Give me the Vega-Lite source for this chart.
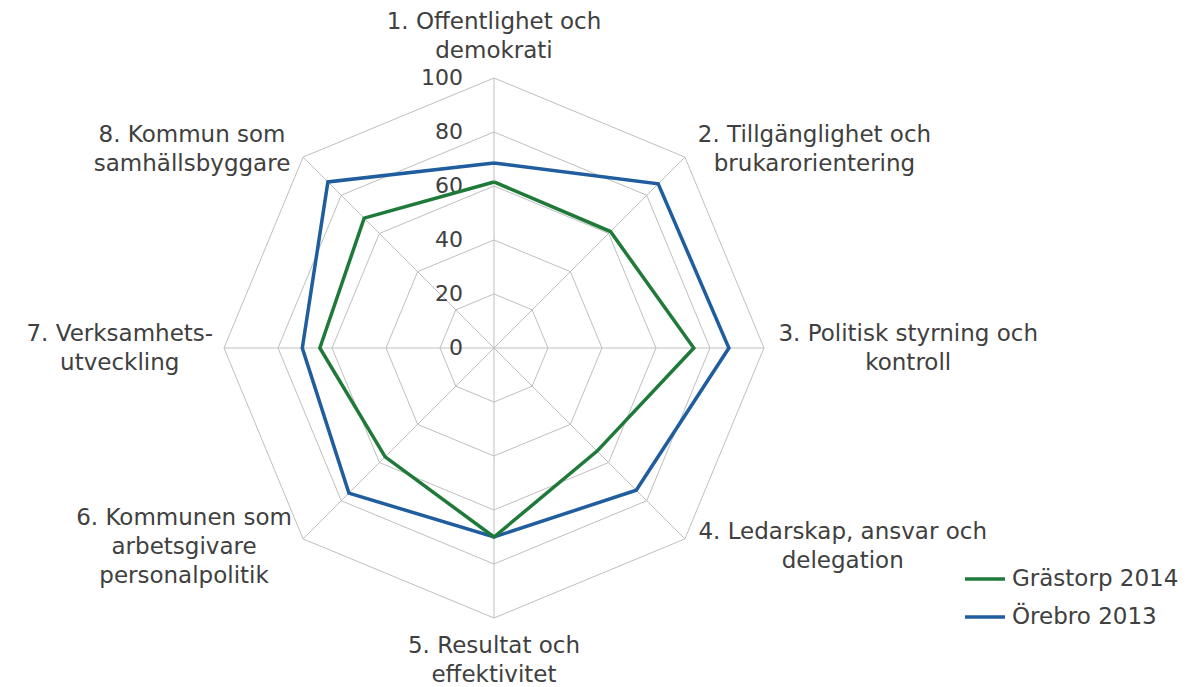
{
  "$schema": "https://vega.github.io/schema/vega-lite/v6.json",
  "width": 540,
  "height": 540,
  "autosize": {"type": "none"},
  "padding": {"left": 224, "top": 78, "right": 427, "bottom": 69},
  "background": "white",
  "config": {"view": {"stroke": null}, "font": "DejaVu Sans"},
  "datasets": {
    "scores": [
      {"series": "Örebro 2013", "k": 0, "value": 68.5},
      {"series": "Örebro 2013", "k": 1, "value": 86},
      {"series": "Örebro 2013", "k": 2, "value": 87},
      {"series": "Örebro 2013", "k": 3, "value": 74.5},
      {"series": "Örebro 2013", "k": 4, "value": 70},
      {"series": "Örebro 2013", "k": 5, "value": 76},
      {"series": "Örebro 2013", "k": 6, "value": 71},
      {"series": "Örebro 2013", "k": 7, "value": 87},
      {"series": "Örebro 2013", "k": 8, "value": 68.5},
      {"series": "Grästorp 2014", "k": 0, "value": 61.5},
      {"series": "Grästorp 2014", "k": 1, "value": 61},
      {"series": "Grästorp 2014", "k": 2, "value": 74},
      {"series": "Grästorp 2014", "k": 3, "value": 54},
      {"series": "Grästorp 2014", "k": 4, "value": 70},
      {"series": "Grästorp 2014", "k": 5, "value": 57},
      {"series": "Grästorp 2014", "k": 6, "value": 64.5},
      {"series": "Grästorp 2014", "k": 7, "value": 68},
      {"series": "Grästorp 2014", "k": 8, "value": 61.5}
    ],
    "categories": [
      {"k": 0, "label": "1. Offentlighet och|demokrati"},
      {"k": 1, "label": "2. Tillgänglighet och|brukarorientering"},
      {"k": 2, "label": "3. Politisk styrning och|kontroll"},
      {"k": 3, "label": "4. Ledarskap, ansvar och|delegation"},
      {"k": 4, "label": "5. Resultat och|effektivitet"},
      {"k": 5, "label": "6. Kommunen som|arbetsgivare|personalpolitik"},
      {"k": 6, "label": "7. Verksamhets-|utveckling"},
      {"k": 7, "label": "8. Kommun som|samhällsbyggare"}
    ],
    "ticks": [{"v": 0}, {"v": 20}, {"v": 40}, {"v": 60}, {"v": 80}, {"v": 100}]
  },
  "layer": [
    {
      "data": {"name": "categories"},
      "transform": [
        {"calculate": "[20,40,60,80,100]", "as": "rings"},
        {"flatten": ["rings"]},
        {"calculate": "datum.k*PI/4", "as": "a"},
        {"calculate": "datum.rings*sin(datum.a)", "as": "gx"},
        {"calculate": "datum.rings*cos(datum.a)", "as": "gy"},
        {"calculate": "datum.rings*sin(datum.a+PI/4)", "as": "gx2"},
        {"calculate": "datum.rings*cos(datum.a+PI/4)", "as": "gy2"}
      ],
      "mark": {"type": "rule", "color": "#bfbfbf", "strokeWidth": 1},
      "encoding": {
        "x": {"field": "gx", "type": "quantitative", "scale": {"domain": [-100, 100], "nice": false, "zero": false}, "axis": null},
        "y": {"field": "gy", "type": "quantitative", "scale": {"domain": [-100, 100], "nice": false, "zero": false}, "axis": null},
        "x2": {"field": "gx2"},
        "y2": {"field": "gy2"}
      }
    },
    {
      "data": {"name": "categories"},
      "transform": [
        {"calculate": "datum.k*PI/4", "as": "a"},
        {"calculate": "0", "as": "o"},
        {"calculate": "100*sin(datum.a)", "as": "sx2"},
        {"calculate": "100*cos(datum.a)", "as": "sy2"}
      ],
      "mark": {"type": "rule", "color": "#bfbfbf", "strokeWidth": 1},
      "encoding": {
        "x": {"field": "o", "type": "quantitative"},
        "y": {"field": "o", "type": "quantitative"},
        "x2": {"field": "sx2"},
        "y2": {"field": "sy2"}
      }
    },
    {
      "data": {"name": "ticks"},
      "transform": [{"calculate": "0", "as": "o"}],
      "mark": {"type": "text", "align": "right", "baseline": "middle", "dx": -31, "fontSize": 22, "color": "#404040"},
      "encoding": {
        "x": {"field": "o", "type": "quantitative"},
        "y": {"field": "v", "type": "quantitative"},
        "text": {"field": "v", "type": "quantitative"}
      }
    },
    {
      "data": {"name": "categories"},
      "transform": [
        {"calculate": "datum.k*PI/4", "as": "a"},
        {"calculate": "split(datum.label,'|')", "as": "lines"},
        {"calculate": "datum.lines[0]", "as": "l0"},
        {"calculate": "length(datum.lines)>1 ? datum.lines[1] : ''", "as": "l1"},
        {"calculate": "length(datum.lines)>2 ? datum.lines[2] : ''", "as": "l2"},
        {"calculate": "length(datum.l0)*14.3 - (length(datum.l0)-length(replace(datum.l0, regexp('[iltfjr., -]','g'), '')))*6.8 + (length(datum.l0)-length(replace(datum.l0, regexp('m','g'), '')))*8", "as": "w0"},
        {"calculate": "length(datum.l1)*14.3 - (length(datum.l1)-length(replace(datum.l1, regexp('[iltfjr., -]','g'), '')))*6.8 + (length(datum.l1)-length(replace(datum.l1, regexp('m','g'), '')))*8", "as": "w1"},
        {"calculate": "length(datum.l2)*14.3 - (length(datum.l2)-length(replace(datum.l2, regexp('[iltfjr., -]','g'), '')))*6.8 + (length(datum.l2)-length(replace(datum.l2, regexp('m','g'), '')))*8", "as": "w2"},
        {"calculate": "max(datum.w0, datum.w1, datum.w2)", "as": "mw"},
        {"calculate": "abs(sin(datum.a))<0.01 ? 0 : (sin(datum.a)>0 ? 1 : -1)", "as": "side"},
        {"calculate": "abs(cos(datum.a))<0.01 ? 0 : (cos(datum.a)>0 ? 1 : -1)", "as": "vs"},
        {"calculate": "100*sin(datum.a) + datum.side*(10 + datum.mw/2)/2.7", "as": "lx"},
        {"calculate": "100*cos(datum.a) + (datum.side==0 ? datum.vs*(13 + length(datum.lines)*29/2)/2.7 : datum.vs*8/2.7) + (length(datum.lines)-1)*14.5/2.7", "as": "ly"}
      ],
      "mark": {"type": "text", "align": "center", "baseline": "middle", "lineBreak": "|", "lineHeight": 29, "fontSize": 23, "color": "#404040"},
      "encoding": {
        "x": {"field": "lx", "type": "quantitative"},
        "y": {"field": "ly", "type": "quantitative"},
        "text": {"field": "label", "type": "nominal"}
      }
    },
    {
      "data": {"name": "scores"},
      "transform": [
        {"calculate": "datum.k*PI/4", "as": "a"},
        {"calculate": "datum.value*sin(datum.a)", "as": "px"},
        {"calculate": "datum.value*cos(datum.a)", "as": "py"}
      ],
      "mark": {"type": "line", "strokeWidth": 3.5, "strokeJoin": "miter"},
      "encoding": {
        "x": {"field": "px", "type": "quantitative"},
        "y": {"field": "py", "type": "quantitative"},
        "order": {"field": "k", "type": "quantitative"},
        "color": {
          "field": "series",
          "type": "nominal",
          "scale": {"domain": ["Grästorp 2014", "Örebro 2013"], "range": ["#1f7a3a", "#1f5d9e"]},
          "legend": {
            "title": null,
            "orient": "none",
            "legendX": 739,
            "legendY": 479,
            "symbolType": "stroke",
            "symbolSize": 1600,
            "symbolStrokeWidth": 3.5,
            "labelFontSize": 23,
            "labelFont": "DejaVu Sans",
            "labelColor": "#404040",
            "labelOffset": 5,
            "labelLimit": 400,
            "rowPadding": 4,
            "padding": 0
          }
        }
      }
    }
  ]
}
